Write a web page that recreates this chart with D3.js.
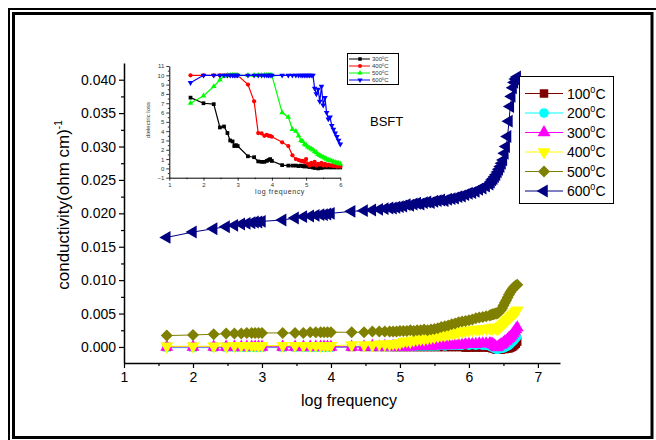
<!DOCTYPE html>
<html>
<head>
<meta charset="utf-8">
<script src="https://cdn.jsdelivr.net/npm/d3@7"></script>
<style>
  body { margin: 0; background: #fff; }
  svg { display: block; font-family: Arial, "Liberation Sans", sans-serif; }
</style>
</head>
<body>
<div id="chart"></div>
<script>
// log10 of the measurement frequencies (42 Hz .. 5 MHz)
var logFreq = [1.62, 2.00, 2.30, 2.48, 2.60, 2.70, 2.78, 2.85, 2.90, 2.95, 3.00,
  3.30, 3.48, 3.60, 3.70, 3.78, 3.85, 3.90, 3.95, 4.00,
  4.30, 4.48, 4.60, 4.70, 4.78, 4.85, 4.90, 4.95, 5.00,
  5.05, 5.10, 5.15, 5.20, 5.25, 5.30, 5.35, 5.40, 5.45, 5.50, 5.55, 5.60, 5.65,
  5.70, 5.75, 5.80, 5.85, 5.90, 5.95, 6.00, 6.05, 6.10, 6.15, 6.20, 6.25, 6.30,
  6.32, 6.34, 6.36, 6.38, 6.40, 6.42, 6.44, 6.46, 6.48, 6.50, 6.52, 6.54, 6.56,
  6.58, 6.60, 6.62, 6.64, 6.66, 6.68, 6.70];

// conductivity (ohm cm)^-1
var s100 = [0, 0, 0, 0, 0, 0, 0, 0, 0, 0, 0,
  0, 0, 0, 0, 0, 0, 0, 0, 0,
  0, 0, 0, 0, 0, 0, 0, 0, 0,
  0, 0, 0, 0, 0, 0, 0, 0, 0, 0, 0, 0, 0,
  0, 0, 0, 0, 0, -0.0001, -0.0001, 0, -0.0001, 0, -0.0001, 0, -0.0001,
  -0.0001, -0.0002, -0.0002, -0.0003, -0.0004, -0.0004, -0.0004, -0.0004, -0.0003, -0.0003, -0.0003, -0.0002, -0.0002,
  -0.0002, -0.0001, 0.0000, 0.0001, 0.0003, 0.0005, 0.0008];
var s200 = [-0.0001, -0.0001, -0.0001, -0.0001, -0.0001, -0.0001, -0.0001, -0.0001, -0.0001, -0.0001, -0.0001,
  -0.0001, -0.0001, -0.0001, -0.0001, -0.0001, -0.0001, -0.0001, -0.0001, -0.0001,
  0, 0, 0, 0, 0, 0, 0, 0, 0,
  0, 0, 0.0001, 0, 0.0001, 0.0001, 0.0001, 0.0001, 0.0001, 0.0001, 0.0001, 0.0002, 0.0001,
  0.0002, 0.0002, 0.0002, 0.0002, 0.0002, 0.0003, 0.0002, 0.0003, 0.0002, 0.0003, 0.0002, 0.0002, 0.0001,
  0.0000, -0.0001, -0.0002, -0.0003, -0.0004, -0.0004, -0.0003, -0.0003, -0.0002, -0.0002, -0.0001, 0.0000, 0.0001,
  0.0002, 0.0004, 0.0006, 0.0008, 0.0010, 0.0013, 0.0015];
var s300 = [0, 0, 0, 0, 0, 0, 0, 0, 0, 0, 0,
  0, 0, 0, 0, 0, 0, 0, 0, 0,
  0, 0, 0.0001, 0, 0.0001, 0, 0.0001, 0, 0.0001,
  0.0000, 0.0001, 0.0000, 0.0001, 0.0001, 0.0001, 0.0001, 0.0002, 0.0001, 0.0002, 0.0002, 0.0002, 0.0002,
  0.0003, 0.0002, 0.0003, 0.0003, 0.0003, 0.0004, 0.0004, 0.0004, 0.0004, 0.0005, 0.0005, 0.0005, 0.0005,
  0.0005, 0.0004, 0.0003, 0.0001, -0.0001, 0.0000, 0.0002, 0.0003, 0.0004, 0.0006, 0.0008, 0.0009, 0.0011,
  0.0013, 0.0015, 0.0017, 0.0020, 0.0023, 0.0026, 0.0029];
var s400 = [0.0001, 0.0001, 0.0001, 0.0001, 0.0002, 0.0002, 0.0002, 0.0002, 0.0002, 0.0002, 0.0002,
  0.0002, 0.0002, 0.0002, 0.0002, 0.0002, 0.0002, 0.0002, 0.0002, 0.0002,
  0.0003, 0.0003, 0.0003, 0.0004, 0.0004, 0.0004, 0.0005, 0.0005, 0.0006,
  0.0008, 0.0009, 0.0008, 0.0010, 0.0011, 0.0012, 0.0012, 0.0013, 0.0014, 0.0015, 0.0016, 0.0017, 0.0018,
  0.0019, 0.0020, 0.0021, 0.0022, 0.0023, 0.0024, 0.0025, 0.0025, 0.0026, 0.0026, 0.0027, 0.0027, 0.0028,
  0.0028, 0.0028, 0.0029, 0.0029, 0.0028, 0.0027, 0.0029, 0.0031, 0.0033, 0.0035, 0.0037, 0.0039, 0.0041,
  0.0043, 0.0045, 0.0047, 0.0049, 0.0051, 0.0053, 0.0055];
var s500 = [0.0017, 0.0018, 0.0019, 0.0020, 0.0020, 0.0020, 0.0021, 0.0021, 0.0021, 0.0021, 0.0021,
  0.0021, 0.0021, 0.0021, 0.0022, 0.0022, 0.0022, 0.0022, 0.0022, 0.0022,
  0.0022, 0.0022, 0.0023, 0.0023, 0.0023, 0.0023, 0.0023, 0.0023, 0.0024,
  0.0024, 0.0024, 0.0025, 0.0024, 0.0025, 0.0025, 0.0026, 0.0025, 0.0026, 0.0027, 0.0028, 0.0030, 0.0031,
  0.0032, 0.0034, 0.0035, 0.0037, 0.0038, 0.0039, 0.0040, 0.0041, 0.0043, 0.0044, 0.0045, 0.0046, 0.0047,
  0.0048, 0.0049, 0.0049, 0.0050, 0.0050, 0.0051, 0.0053, 0.0055, 0.0058, 0.0062, 0.0066, 0.0070, 0.0074,
  0.0078, 0.0082, 0.0085, 0.0088, 0.0090, 0.0092, 0.0093];
var s600 = [0.0164, 0.0172, 0.0177, 0.0180, 0.0182, 0.0184, 0.0185, 0.0186, 0.0187, 0.0187, 0.0188,
  0.0190, 0.0193, 0.0195, 0.0196, 0.0197, 0.0198, 0.0198, 0.0199, 0.0200,
  0.0203, 0.0204, 0.0205, 0.0206, 0.0207, 0.0208, 0.0208, 0.0209, 0.0210,
  0.0211, 0.0213, 0.0212, 0.0214, 0.0215, 0.0214, 0.0216, 0.0217, 0.0216, 0.0218, 0.0219, 0.0220, 0.0219,
  0.0221, 0.0222, 0.0223, 0.0225, 0.0226, 0.0228, 0.0230, 0.0231, 0.0233, 0.0236, 0.0238, 0.0241, 0.0244,
  0.0247, 0.0250, 0.0252, 0.0255, 0.0258, 0.0262, 0.0266, 0.0270, 0.0275, 0.0280, 0.0290, 0.0300, 0.0315,
  0.0338, 0.0360, 0.0375, 0.0388, 0.0396, 0.0401, 0.0404];

// inset: dielectric loss, 42 Hz .. 1 MHz (first 49 frequencies)
var insetCount = 49;
var loss300 = [7.6, 7.0, 6.9, 4.4, 4.5, 3.8, 3.0, 2.9, 2.4, 2.5, 2.4,
  1.3, 1.2, 0.75, 0.7, 0.7, 0.8, 0.9, 1.0, 0.8,
  0.35, 0.3, 0.3, 0.3, 0.25, 0.3, 0.25, 0.2, 0.25,
  0.2, 0.15, 0.2, 0.1, 0.05, 0.1, 0.0, 0.1, 0.05, 0.1, 0.15, 0.1, 0.2,
  0.1, 0.15, 0.1, 0.2, 0.1, 0.15, 0.1];
var loss400 = [10, 10, 10, 10, 10, 10, 10, 10, 10, 10, 10,
  9.0, 7.2, 3.8, 3.75, 3.5, 3.6, 3.5, 3.5, 3.4,
  2.8, 2.4, 1.4, 1.0, 0.9, 0.8, 0.8, 0.7, 1.0,
  0.5, 0.3, 0.6, 0.4, 0.7, 0.3, 0.5, 0.4, 0.6, 0.3, 0.5, 0.3, 0.4,
  0.3, 0.35, 0.25, 0.3, 0.2, 0.25, 0.2];
var loss500 = [7.0, 7.8, 8.8, 9.5, 9.9, 10, 10, 10, 10, 10, 10,
  10, 10, 10, 10, 10, 10, 10, 10, 10,
  6.0, 5.5, 4.2, 4.0, 3.5, 3.0, 2.9, 2.6, 2.5,
  2.3, 2.2, 2.1, 2.0, 1.8, 1.7, 1.5, 1.4, 1.3, 1.2, 1.1, 1.0, 0.9,
  0.85, 0.8, 0.7, 0.65, 0.6, 0.55, 0.5];
var loss600 = [9.2, 10, 10, 10, 10, 10, 10, 10, 10, 10, 10,
  10, 10, 10, 10, 10, 10, 10, 10, 10,
  10, 10, 10, 10, 10, 10, 10, 10, 10,
  10, 10, 10, 10, 8.6, 8.0, 8.5, 7.2, 8.8, 6.8, 7.6, 6.0, 5.3,
  5.5, 4.6, 4.2, 3.8, 3.4, 3.0, 2.6];

var mainTemps = ["100", "200", "300", "400", "500", "600"];
var mainColors = ["#800000", "#00ffff", "#ff00ff", "#ffff00", "#808000", "#000080"];
var mainShapes = ["square", "circle", "up", "down", "diamond", "left"];
var mainValues = [s100, s200, s300, s400, s500, s600];

var insetTemps = ["300", "400", "500", "600"];
var insetColors = ["#000000", "#ff0000", "#00ff00", "#0000ff"];
var insetShapes = ["square", "circle", "up", "down"];
var insetValues = [loss300, loss400, loss500, loss600];

var xTicks = [1, 2, 3, 4, 5, 6, 7];
var yTicks = [0, 0.005, 0.010, 0.015, 0.020, 0.025, 0.030, 0.035, 0.040];
var insetXTicks = [1, 2, 3, 4, 5, 6];
var insetYTicks = [-1, 0, 1, 2, 3, 4, 5, 6, 7, 8, 9, 10, 11];

var width = 656, height = 440;

var svg = d3.select("#chart").append("svg")
  .attr("width", width)
  .attr("height", height);

// page frame
svg.append("path")
  .attr("d", "M9,440 V9 H656")
  .attr("fill", "none").attr("stroke", "#000").attr("stroke-width", 2);
svg.append("rect")
  .attr("x", 13.5).attr("y", 13.5)
  .attr("width", 638.5).attr("height", 424)
  .attr("fill", "none").attr("stroke", "#000").attr("stroke-width", 3);

function symbolFor(shape, size) {
  var type = d3.symbolSquare, rot = 0;
  if (shape === "circle") type = d3.symbolCircle;
  if (shape === "up") type = d3.symbolTriangle;
  if (shape === "down") { type = d3.symbolTriangle; rot = 180; }
  if (shape === "left") { type = d3.symbolTriangle; rot = -90; }
  if (shape === "diamond") { type = d3.symbolSquare; rot = 45; }
  return { path: d3.symbol().type(type).size(size)(), rot: rot };
}

//////////////////////////// main plot ////////////////////////////
var x = d3.scaleLinear().domain([1, 7.32]).range([124, 560]);
var y = d3.scaleLinear().domain([-0.0024, 0.0425]).range([363, 63]);

var main = svg.append("g");

mainValues.forEach(function(vals, k) {
  var pts = logFreq.map(function(f, i) { return [f, vals[i]]; });
  var line = d3.line().x(function(d) { return x(d[0]); }).y(function(d) { return y(d[1]); });
  main.append("path")
    .attr("d", line(pts))
    .attr("fill", "none")
    .attr("stroke", mainColors[k])
    .attr("stroke-width", 1);
  var sym = symbolFor(mainShapes[k], mainShapes[k] === "circle" ? 60 : 72);
  main.append("g").selectAll("path")
    .data(pts)
    .enter().append("path")
    .attr("d", sym.path)
    .attr("transform", function(d) {
      return "translate(" + x(d[0]) + "," + y(d[1]) + ") rotate(" + sym.rot + ")";
    })
    .attr("fill", mainColors[k]);
});

// axes
var xAxis = main.append("g")
  .attr("transform", "translate(0,363)")
  .call(d3.axisBottom(x).tickValues(xTicks).tickFormat(d3.format("d")).tickSize(5).tickSizeOuter(0).tickPadding(4));
main.append("g")
  .attr("transform", "translate(0,363)")
  .call(d3.axisBottom(x).tickValues([1.5, 2.5, 3.5, 4.5, 5.5, 6.5]).tickSize(3).tickFormat(""))
  .select(".domain").remove();
var yAxis = main.append("g")
  .attr("transform", "translate(124,0)")
  .call(d3.axisLeft(y).tickValues(yTicks).tickFormat(d3.format(".3f")).tickSize(5).tickSizeOuter(0).tickPadding(3));
main.append("g")
  .attr("transform", "translate(124,0)")
  .call(d3.axisLeft(y).tickValues([0.0025, 0.0075, 0.0125, 0.0175, 0.0225, 0.0275, 0.0325, 0.0375]).tickSize(3).tickFormat(""))
  .select(".domain").remove();

main.selectAll(".domain").attr("stroke-width", 1.5);
main.selectAll(".tick line").attr("stroke-width", 1.2);
xAxis.selectAll("text").style("font-size", "14px").attr("font-family", null);
yAxis.selectAll("text").style("font-size", "14px").attr("font-family", null);

main.append("text")
  .attr("x", 349).attr("y", 406)
  .attr("text-anchor", "middle")
  .style("font-size", "16px")
  .text("log frequency");

var yTitle = main.append("text")
  .attr("transform", "translate(69,205) rotate(-90)")
  .attr("text-anchor", "middle")
  .style("font-size", "17px");
yTitle.append("tspan").text("conductivity(ohm cm)");
yTitle.append("tspan").attr("dy", -7).style("font-size", "10px").text("-1");

main.append("text")
  .attr("x", 370).attr("y", 126)
  .style("font-size", "13px")
  .text("BSFT");

// legend
var legend = main.append("g");
legend.append("rect")
  .attr("x", 519.5).attr("y", 76.5)
  .attr("width", 94).attr("height", 127)
  .attr("fill", "#fff").attr("stroke", "#000").attr("stroke-width", 1);
mainTemps.forEach(function(t, k) {
  var ly = 93.5 + k * 19.5;
  legend.append("line")
    .attr("x1", 525).attr("x2", 563).attr("y1", ly).attr("y2", ly)
    .attr("stroke", mainColors[k]).attr("stroke-width", 1);
  var sym = symbolFor(mainShapes[k], 72);
  legend.append("path")
    .attr("d", sym.path)
    .attr("transform", "translate(544," + ly + ") rotate(" + sym.rot + ")")
    .attr("fill", mainColors[k]);
  var txt = legend.append("text")
    .attr("x", 567).attr("y", ly + 5)
    .style("font-size", "14px");
  txt.append("tspan").text(t);
  txt.append("tspan").attr("dy", -6).style("font-size", "9px").text("0");
  txt.append("tspan").attr("dy", 6).text("C");
});

//////////////////////////// inset ////////////////////////////
var ix = d3.scaleLinear().domain([1, 6]).range([169.3, 340.3]);
var iy = d3.scaleLinear().domain([-1, 11]).range([177.7, 66]);

var inset = svg.append("g");
var insetFreq = logFreq.slice(0, insetCount);

insetValues.forEach(function(vals, k) {
  var pts = insetFreq.map(function(f, i) { return [f, vals[i]]; });
  var line = d3.line().x(function(d) { return ix(d[0]); }).y(function(d) { return iy(d[1]); });
  inset.append("path")
    .attr("d", line(pts))
    .attr("fill", "none")
    .attr("stroke", insetColors[k])
    .attr("stroke-width", 1.2);
  var sym = symbolFor(insetShapes[k], 14);
  inset.append("g").selectAll("path")
    .data(pts)
    .enter().append("path")
    .attr("d", sym.path)
    .attr("transform", function(d) {
      return "translate(" + ix(d[0]) + "," + iy(d[1]) + ") rotate(" + sym.rot + ")";
    })
    .attr("fill", insetColors[k]);
});

var ixAxis = inset.append("g")
  .attr("transform", "translate(0,177.7)")
  .call(d3.axisBottom(ix).tickValues(insetXTicks).tickFormat(d3.format("d")).tickSize(3).tickSizeOuter(0).tickPadding(2));
inset.append("g")
  .attr("transform", "translate(0,177.7)")
  .call(d3.axisBottom(ix).tickValues([1.5, 2.5, 3.5, 4.5, 5.5]).tickSize(1.5).tickFormat(""))
  .select(".domain").remove();
var iyAxis = inset.append("g")
  .attr("transform", "translate(169.3,0)")
  .call(d3.axisLeft(iy).tickValues(insetYTicks).tickFormat(d3.format("d")).tickSize(3).tickSizeOuter(0).tickPadding(2));
inset.append("g")
  .attr("transform", "translate(169.3,0)")
  .call(d3.axisLeft(iy).tickValues([-0.5, 0.5, 1.5, 2.5, 3.5, 4.5, 5.5, 6.5, 7.5, 8.5, 9.5, 10.5]).tickSize(1.5).tickFormat(""))
  .select(".domain").remove();

inset.selectAll(".domain").attr("stroke-width", 1);
inset.selectAll(".tick line").attr("stroke-width", 0.8);
ixAxis.selectAll("text").style("font-size", "6px").attr("font-family", null).attr("fill", "#333");
iyAxis.selectAll("text").style("font-size", "6px").attr("font-family", null).attr("fill", "#333");

inset.append("text")
  .attr("x", 280).attr("y", 194)
  .attr("text-anchor", "middle")
  .style("font-size", "7px")
  .style("letter-spacing", "0.6px")
  .attr("fill", "#333")
  .text("log frequency");
inset.append("text")
  .attr("transform", "translate(150,120) rotate(-90)")
  .attr("text-anchor", "middle")
  .style("font-size", "6px")
  .attr("fill", "#333")
  .text("dielectric loss");

var ilegend = inset.append("g");
ilegend.append("rect")
  .attr("x", 347.5).attr("y", 53.5)
  .attr("width", 51).attr("height", 31)
  .attr("fill", "#fff").attr("stroke", "#000").attr("stroke-width", 1);
insetTemps.forEach(function(t, k) {
  var ly = 59 + k * 7;
  ilegend.append("line")
    .attr("x1", 349).attr("x2", 370).attr("y1", ly).attr("y2", ly)
    .attr("stroke", insetColors[k]).attr("stroke-width", 1);
  var sym = symbolFor(insetShapes[k], 12);
  ilegend.append("path")
    .attr("d", sym.path)
    .attr("transform", "translate(360," + ly + ") rotate(" + sym.rot + ")")
    .attr("fill", insetColors[k]);
  var txt = ilegend.append("text")
    .attr("x", 372).attr("y", ly + 2)
    .style("font-size", "6px")
    .attr("fill", "#333");
  txt.append("tspan").text(t);
  txt.append("tspan").attr("dy", -2).style("font-size", "4px").text("0");
  txt.append("tspan").attr("dy", 2).text("C");
});
</script>
</body>
</html>
